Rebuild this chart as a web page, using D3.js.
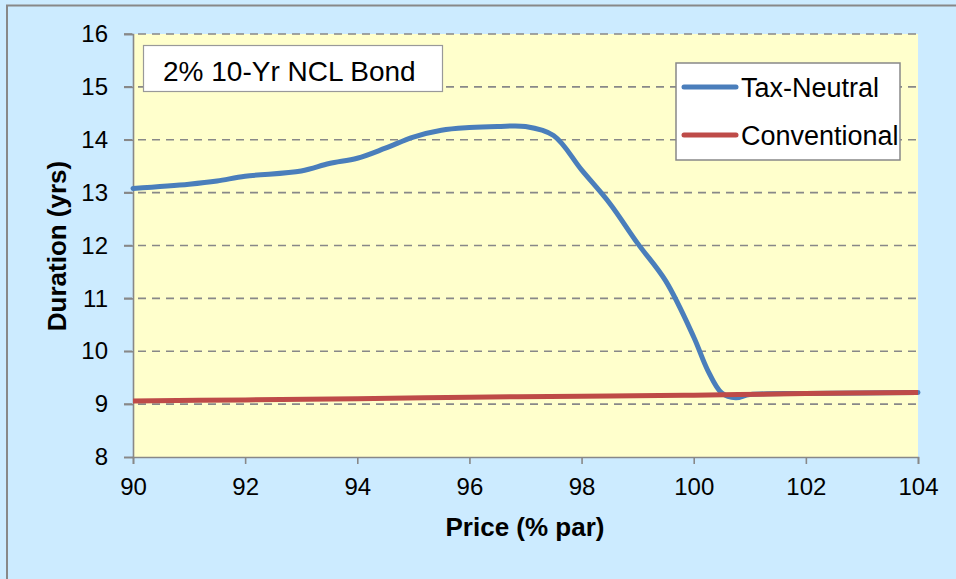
<!DOCTYPE html>
<html>
<head>
<meta charset="utf-8">
<script src="https://cdn.jsdelivr.net/npm/d3@7"></script>
<style>
  html, body { margin: 0; padding: 0; background: #CCEBFF; }
  svg { display: block; font-family: "Liberation Sans", Arial, sans-serif; }
</style>
</head>
<body>
<svg id="chart" width="956" height="579"></svg>
<script>
// ---- Data ----
const chartTitle = "2% 10-Yr NCL Bond";
const xTicks = [90, 92, 94, 96, 98, 100, 102, 104];
const yTicks = [8, 9, 10, 11, 12, 13, 14, 15, 16];
const taxNeutralPrice = [90, 91, 91.5, 92, 93, 93.5, 94, 94.5, 95, 95.5, 96, 96.5, 97, 97.5, 98, 98.5, 99, 99.5, 100, 100.25, 100.5, 100.75, 101, 102, 103, 104];
const taxNeutralDur   = [13.08, 13.16, 13.22, 13.31, 13.41, 13.55, 13.65, 13.84, 14.05, 14.18, 14.23, 14.25, 14.25, 14.08, 13.43, 12.80, 12.04, 11.33, 10.27, 9.64, 9.21, 9.12, 9.18, 9.20, 9.21, 9.22];
const convPrice = [90, 92, 94, 96, 98, 100, 102, 104];
const convDur   = [9.06, 9.08, 9.10, 9.13, 9.15, 9.17, 9.20, 9.22];
const seriesNames = ["Tax-Neutral", "Conventional"];
const seriesColors = ["#4A7EBB", "#BE4B48"];

(function () {
// ---- Layout ----
const svg = d3.select("#chart");
const L = 133, R = 918, T = 34, B = 457;
const FONT = "Liberation Sans, Arial, sans-serif";

svg.append("rect").attr("x", 0).attr("y", 0).attr("width", 956).attr("height", 579).attr("fill", "#CCEBFF");
// outer frame (left/top edges visible)
svg.append("path").attr("d", "M7,579 V5.5 H956").attr("fill", "none").attr("stroke", "#888").attr("stroke-width", 2);

const x = d3.scaleLinear().domain([90, 104]).range([L, R]);
const y = d3.scaleLinear().domain([8, 16]).range([B, T]);

// plot background
svg.append("rect").attr("x", L).attr("y", T).attr("width", R - L).attr("height", B - T).attr("fill", "#FFFFCC");

// grid lines
svg.append("g").selectAll("line").data(yTicks.filter(d => d > 8)).join("line")
  .attr("x1", L - 9).attr("x2", R)
  .attr("y1", d => y(d)).attr("y2", d => y(d))
  .attr("stroke", "#888").attr("stroke-width", 1.6).attr("stroke-dasharray", "8,6");

// y axis
const yAxis = svg.append("g").attr("transform", `translate(${L},0)`)
  .call(d3.axisLeft(y).tickValues(yTicks).tickSize(9).tickPadding(16).tickFormat(d3.format("d")));
yAxis.attr("font-size", 24).attr("font-family", FONT);
yAxis.select(".domain").attr("stroke", "#888").attr("stroke-width", 1.6);
yAxis.selectAll(".tick line").attr("stroke", "#888").attr("stroke-width", 1.6);
yAxis.selectAll(".tick text").attr("fill", "#000");

// x axis
const xAxis = svg.append("g").attr("transform", `translate(0,${B})`)
  .call(d3.axisBottom(x).tickValues(xTicks).tickSize(7).tickPadding(14).tickFormat(d3.format("d")));
xAxis.attr("font-size", 24).attr("font-family", FONT);
xAxis.select(".domain").attr("stroke", "#888").attr("stroke-width", 1.6);
xAxis.selectAll(".tick line").attr("stroke", "#888").attr("stroke-width", 1.6);
xAxis.selectAll(".tick text").attr("fill", "#000");

// axis titles
svg.append("text").attr("x", 525).attr("y", 536).attr("text-anchor", "middle")
  .attr("font-size", 26).attr("font-weight", "bold").text("Price (% par)");
svg.append("text").attr("transform", "translate(66,246) rotate(-90)").attr("text-anchor", "middle")
  .attr("font-size", 26).attr("font-weight", "bold").text("Duration (yrs)");

// lines
const line = d3.line().x(d => x(d[0])).y(d => y(d[1])).curve(d3.curveCatmullRom.alpha(0.5));
const tn = taxNeutralPrice.map((p, i) => [p, taxNeutralDur[i]]);
const cv = convPrice.map((p, i) => [p, convDur[i]]);
svg.append("path").attr("d", line(tn)).attr("fill", "none").attr("stroke", seriesColors[0]).attr("stroke-width", 5).attr("stroke-linecap", "round");
svg.append("path").attr("d", line(cv)).attr("fill", "none").attr("stroke", seriesColors[1]).attr("stroke-width", 5);

// title box
svg.append("rect").attr("x", 143.5).attr("y", 45.5).attr("width", 299).attr("height", 46)
  .attr("fill", "#fff").attr("stroke", "#999").attr("stroke-width", 1.2);
svg.append("text").attr("x", 163).attr("y", 81).attr("font-size", 28).attr("fill", "#000").text(chartTitle);

// legend
svg.append("rect").attr("x", 676).attr("y", 63).attr("width", 224).attr("height", 97)
  .attr("fill", "#fff").attr("stroke", "#888").attr("stroke-width", 1.5);
const lg = svg.append("g");
seriesNames.forEach((name, i) => {
  const ly = 87 + i * 48;
  lg.append("line").attr("x1", 684).attr("x2", 736).attr("y1", ly).attr("y2", ly)
    .attr("stroke", seriesColors[i]).attr("stroke-width", 5).attr("stroke-linecap", "round");
  lg.append("text").attr("x", 741).attr("y", ly + 10).attr("font-size", 27).attr("fill", "#000").text(name);
});
})();
</script>
</body>
</html>
